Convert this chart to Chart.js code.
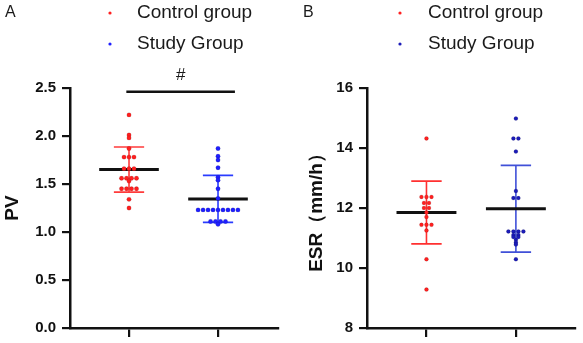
<!DOCTYPE html>
<html>
<head>
<meta charset="utf-8">
<script src="https://cdn.jsdelivr.net/npm/chart.js@4.4.1/dist/chart.umd.min.js"></script>
<style>
  html, body { margin: 0; padding: 0; background: #fff; }
  #wrap { position: relative; width: 583px; height: 343px; overflow: hidden; }
  .panel { position: absolute; top: 0; height: 343px; }
</style>
</head>
<body>
<div id="wrap">
  <div class="panel" style="left:0;width:291px"><canvas id="chartA"></canvas></div>
  <div class="panel" style="left:291px;width:292px"><canvas id="chartB"></canvas></div>
</div>
<script>
// groups on the x axis
const groups = ['Control group', 'Study Group'];
const groupX = [1, 2];

// Panel A - PV, individual values
const pvControl = [2.22, 2.01, 1.98, 1.87, 1.78, 1.78, 1.78, 1.66, 1.66, 1.66,
                   1.56, 1.56, 1.56, 1.56, 1.53, 1.45, 1.45, 1.45, 1.45, 1.34, 1.25];
const pvStudy = [1.87, 1.79, 1.75, 1.67, 1.57, 1.54, 1.45, 1.35,
                 1.23, 1.23, 1.23, 1.23, 1.23, 1.23, 1.23, 1.23, 1.23,
                 1.11, 1.11, 1.11, 1.11, 1.08];
const pvMean = [1.65, 1.345];
const pvSD = [0.235, 0.245];
const pvTicks = [0, 0.5, 1.0, 1.5, 2.0, 2.5];

// significance bracket over panel A
const sigLabel = '#';
const sigLevel = 2.46;
const sigFrom = 0.97;
const sigTo = 2.19;

// Panel B - ESR (mm/h), individual values
const esrControl = [14.32, 12.37, 12.37, 12.37, 12.17, 12.17, 12.0, 12.0, 11.85, 11.7,
                    11.44, 11.44, 11.44, 11.25, 10.29, 9.28];
const esrStudy = [14.98, 14.32, 14.32, 13.88, 12.57, 12.33, 12.33,
                  11.22, 11.22, 11.22, 11.22, 11.1, 11.1, 11.03, 11.03, 10.94, 10.85, 10.78, 10.29];
const esrMean = [11.85, 11.975];
const esrSD = [1.045, 1.445];
const esrTicks = [8, 10, 12, 14, 16];

const FONT = '"Liberation Sans", Arial, sans-serif';

// spread equal values side by side (simple column scatter)
function swarm(values, cx, step) {
    const counts = {};
    values.forEach(v => counts[v] = (counts[v] || 0) + 1);
    const seen = {};
    return values.map(v => {
        seen[v] = (seen[v] === undefined) ? 0 : seen[v] + 1;
        return { x: cx + (seen[v] - (counts[v] - 1) / 2) * step, y: v };
    });
}

// mean +/- SD whiskers as one broken line
function whisker(cx, mean, sd, cap) {
    const hi = mean + sd, lo = mean - sd;
    return [
        { x: cx - cap, y: hi }, { x: cx + cap, y: hi }, { x: cx, y: null },
        { x: cx, y: hi }, { x: cx, y: lo }, { x: cx, y: null },
        { x: cx - cap, y: lo }, { x: cx + cap, y: lo }
    ];
}

function meanLine(cx, mean, half) {
    return [{ x: cx - half, y: mean }, { x: cx + half, y: mean }];
}

const panelText = {
    id: 'panelText',
    afterDraw(chart, args, opts) {
        const ctx = chart.ctx;
        ctx.save();
        ctx.textBaseline = 'middle';
        ctx.fillStyle = '#1a1a1a';
        ctx.font = '16px ' + FONT;
        ctx.fillText(opts.letter, opts.letterX, 13);

        ctx.font = '19px ' + FONT;
        groups.forEach((g, i) => {
            const y = 13 + i * 31;
            ctx.fillStyle = opts.colors[i];
            ctx.beginPath();
            ctx.arc(opts.dotX, y, 1.6, 0, Math.PI * 2);
            ctx.fill();
            ctx.fillStyle = '#1a1a1a';
            ctx.fillText(g, opts.textX, y);
        });

        if (opts.sig) {
            const xs = chart.scales.x, ys = chart.scales.y;
            ctx.font = '17px ' + FONT;
            ctx.textAlign = 'center';
            ctx.fillText(opts.sig, xs.getPixelForValue((sigFrom + sigTo) / 2), ys.getPixelForValue(sigLevel) - 17);
        }
        ctx.restore();
    }
};

function makePanel(id, p) {
    const step = 0.056;
    const datasets = [
        { data: swarm(p.control, groupX[0], step), backgroundColor: p.dotColors[0], pointRadius: p.r, order: 1 },
        { data: swarm(p.study, groupX[1], step), backgroundColor: p.dotColors[1], pointRadius: p.r, order: 1 },
        { data: meanLine(groupX[0], p.mean[0], 0.335), showLine: true, borderColor: '#111', borderWidth: 3, pointRadius: 0, order: 2 },
        { data: meanLine(groupX[1], p.mean[1], 0.335), showLine: true, borderColor: '#111', borderWidth: 3, pointRadius: 0, order: 2 },
        { data: whisker(groupX[0], p.mean[0], p.sd[0], 0.17), showLine: true, spanGaps: false, borderColor: p.barColors[0], borderWidth: 1.6, pointRadius: 0, order: 3 },
        { data: whisker(groupX[1], p.mean[1], p.sd[1], 0.17), showLine: true, spanGaps: false, borderColor: p.barColors[1], borderWidth: 1.6, pointRadius: 0, order: 3 }
    ];
    if (p.sig) {
        datasets.push({ data: [{ x: sigFrom, y: sigLevel }, { x: sigTo, y: sigLevel }], showLine: true, borderColor: '#111', borderWidth: 2.5, pointRadius: 0, order: 2 });
    }

    return new Chart(document.getElementById(id), {
        type: 'scatter',
        data: { datasets },
        plugins: [panelText],
        options: {
            responsive: true,
            maintainAspectRatio: false,
            animation: false,
            events: [],
            layout: { padding: { top: 88, right: p.padRight, bottom: 0, left: 0 } },
            plugins: {
                legend: { display: false },
                tooltip: { enabled: false },
                panelText: { letter: p.letter, letterX: p.letterX, dotX: p.dotX, textX: p.textX, colors: p.dotColors, sig: p.sig }
            },
            scales: {
                x: {
                    type: 'linear',
                    min: p.xMin,
                    max: p.xMax,
                    afterBuildTicks: s => { s.ticks = groupX.map(v => ({ value: v })); },
                    afterFit: s => { s.height = 15; },
                    ticks: { display: false },
                    grid: { drawOnChartArea: false, drawTicks: true, tickLength: 9, color: '#111', lineWidth: 2.2 },
                    border: { display: true, color: '#111', width: 2.5 }
                },
                y: {
                    min: p.yTicks[0],
                    max: p.yTicks[p.yTicks.length - 1],
                    afterBuildTicks: s => { s.ticks = p.yTicks.map(v => ({ value: v })); },
                    afterFit: s => { s.width = p.axisWidth; },
                    ticks: {
                        color: '#111',
                        padding: 6,
                        font: { family: FONT, size: 15, weight: 'bold' },
                        callback: p.fmt
                    },
                    grid: { drawOnChartArea: false, drawTicks: true, tickLength: 8, color: '#111', lineWidth: 2.2 },
                    border: { display: true, color: '#111', width: 2.5 },
                    title: {
                        display: true,
                        text: p.title,
                        color: '#111',
                        padding: { top: p.titlePad, bottom: 0 },
                        font: { family: FONT, size: 19, weight: 'bold' }
                    }
                }
            }
        }
    });
}

makePanel('chartA', {
    letter: 'A', letterX: 5, dotX: 110, textX: 137,
    control: pvControl, study: pvStudy, mean: pvMean, sd: pvSD,
    yTicks: pvTicks, fmt: v => v.toFixed(1), title: 'PV', titlePad: 1,
    dotColors: ['#ff1f1f', '#1f1fff'], barColors: ['#ff3b3b', '#2a3cff'],
    r: 2.2, xMin: 0.337, xMax: 2.674, axisWidth: 70, padRight: 13,
    sig: sigLabel
});

makePanel('chartB', {
    letter: 'B', letterX: 12, dotX: 109, textX: 137,
    control: esrControl, study: esrStudy, mean: esrMean, sd: esrSD,
    yTicks: esrTicks, fmt: v => String(v), title: 'ESR（mm/h）', titlePad: 14,
    dotColors: ['#ff2020', '#1c1cb8'], barColors: ['#ff3030', '#4050d8'],
    r: 2, xMin: 0.335, xMax: 2.661, axisWidth: 76, padRight: 8,
    sig: null
});
</script>
</body>
</html>
